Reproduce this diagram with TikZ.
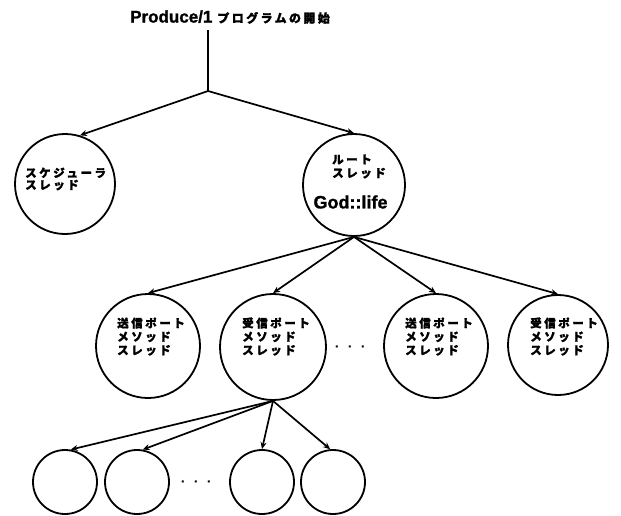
\documentclass[tikz,border=0pt]{standalone}
\usepackage{fontspec}
\setmainfont{Liberation Sans}[BoldFeatures={FakeBold=1.2}]
\newfontfamily\jp{Noto Sans CJK JP}[LetterSpace=22,BoldFeatures={FakeBold=1.5}]
\newfontfamily\jpt{Noto Sans CJK JP}[LetterSpace=20,BoldFeatures={FakeBold=1.5}]
\usetikzlibrary{arrows.meta}
\begin{document}
\begin{tikzpicture}[x=1pt,y=-1pt,
  circ/.style={draw,circle,line width=1.8pt,inner sep=0pt,minimum size=#1},
  conn/.style={line width=1.7pt,-{Stealth[length=7pt,width=6pt]}},
  plain/.style={line width=1.7pt},
  jtext/.style={inner sep=0pt,anchor=west,align=left,font=\jp\bfseries\fontsize{11.5}{13.5}\selectfont},
  dotrow/.style={inner sep=0pt,font=\bfseries\fontsize{12}{12}\selectfont},
]
\useasboundingbox (0,0) rectangle (621,515);

% title
\node[inner sep=0pt,anchor=west] (title) at (130,17)
  {{\bfseries\fontsize{17}{17}\selectfont Produce/1}\hspace{5pt}{\jpt\bfseries\fontsize{12}{12}\selectfont プログラムの開始}};
\coordinate (top) at (208,30);
\coordinate (jn) at (208,91);

% level 1
\node[circ=100pt] (sched) at (65,184) {};
\node[circ=102pt] (root) at (354,185) {};
\node[jtext,font=\jp\bfseries\fontsize{11.5}{12}\selectfont] (schedt) at (25,179) {スケジューラ\\スレッド};
\node[jtext] (roott) at (332,166.5) {ルート\\スレッド};
\node[inner sep=0pt,font=\bfseries\fontsize{18}{18}\selectfont] (godt) at (350.5,202) {God::life};

% level 2
\node[circ=104pt] (m1) at (148,346) {};
\node[circ=106pt] (m2) at (273,347) {};
\node[circ=104pt] (m3) at (436,346) {};
\node[circ=100pt] (m4) at (558,345) {};
\node[jtext] (m1t) at (117,336.5) {送信ポート\\メソッド\\スレッド};
\node[jtext] (m2t) at (242,336.5) {受信ポート\\メソッド\\スレッド};
\node[jtext] (m3t) at (405,336.5) {送信ポート\\メソッド\\スレッド};
\node[jtext] (m4t) at (530,336.5) {受信ポート\\メソッド\\スレッド};
\node[dotrow] (dots1) at (350,348) {\textperiodcentered\hspace{9pt}\textperiodcentered\hspace{9pt}\textperiodcentered};

% level 3
\node[circ=64pt] (b1) at (65,482) {};
\node[circ=64pt] (b2) at (137,482) {};
\node[circ=64pt] (b3) at (262,482) {};
\node[circ=64pt] (b4) at (333,482) {};
\node[dotrow] (dots2) at (196,483) {\textperiodcentered\hspace{9pt}\textperiodcentered\hspace{9pt}\textperiodcentered};

% connectors
\draw[plain] (top) -- (jn);
\draw[conn] (jn) -- (sched.73);
\draw[conn] (jn) -- (root.north);
\draw[conn] (root.south) -- (m1.north);
\draw[conn] (root.south) -- (m2.north);
\draw[conn] (root.south) -- (m3.north);
\draw[conn] (root.south) -- (m4.north);
\draw[conn] (m2.south) -- (b1.80);
\draw[conn] (m2.south) -- (b2.80);
\draw[conn] (m2.south) -- (b3.north);
\draw[conn] (m2.south) -- (b4.95);
\end{tikzpicture}
\end{document}
